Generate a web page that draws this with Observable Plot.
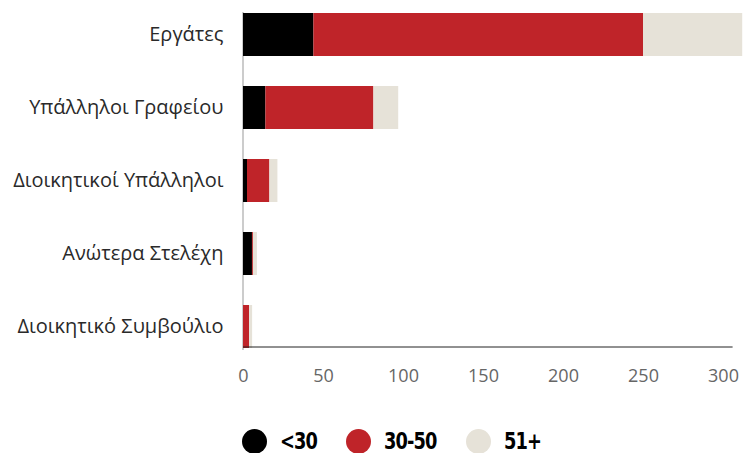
<!DOCTYPE html>
<html>
<head>
<meta charset="utf-8">
<script src="https://cdn.jsdelivr.net/npm/d3@7"></script>
<script src="https://cdn.jsdelivr.net/npm/@observablehq/plot@0.6"></script>
<style>
  html, body { margin: 0; padding: 0; background: #fff; }
  #chart svg { display: block; }
  .legend { display: flex; align-items: center; margin-left: 242px; margin-top: 28px; height: 26px;
            font-family: "DejaVu Sans Condensed", "DejaVu Sans", sans-serif; font-stretch: condensed;
            font-weight: bold; font-size: 23px; line-height: 26px; color: #000; letter-spacing: -1px; }
  .legend .sw { width: 25px; height: 25px; border-radius: 50%; margin-right: 13px; flex: none; }
  .legend .item { display: flex; align-items: center; margin-right: 29px; }
  .legend .lbl { display: inline-block; transform: scaleX(0.86); transform-origin: 0 50%; }
</style>
</head>
<body>
<div id="chart"></div>
<script>
const categories = ["Εργάτες", "Υπάλληλοι Γραφείου", "Διοικητικοί Υπάλληλοι", "Ανώτερα Στελέχη", "Διοικητικό Συμβούλιο"];
const seriesNames = ["<30", "30-50", "51+"];
const seriesColors = ["#000000", "#bf2429", "#e6e2d8"];
const under30 = [44, 14, 2.5, 5.6, 0];
const age30to50 = [206, 67.5, 14, 0.6, 3.8];
const over51 = [62, 15.5, 5, 2.5, 1.9];
const xTicks = [0, 50, 100, 150, 200, 250, 300];

const seriesValues = [under30, age30to50, over51];
const data = [];
seriesNames.forEach((s, si) => {
  categories.forEach((c, ci) => data.push({category: c, group: s, value: seriesValues[si][ci]}));
});

const plot = Plot.plot({
  width: 746,
  height: 400,
  marginLeft: 243,
  marginRight: 3,
  marginTop: 12,
  marginBottom: 50,
  style: {fontFamily: "'Open Sans', sans-serif", background: "#fff"},
  x: {domain: [0, 312.5], ticks: xTicks, label: null},
  y: {domain: categories, paddingInner: 0.405, paddingOuter: 0, label: null},
  color: {domain: seriesNames, range: seriesColors},
  marks: [
    Plot.ruleX([0], {stroke: "#999", dx: -0.5}),
    Plot.barX(data, Plot.stackX({y: "category", x: "value", fill: "group", order: null})),
    Plot.ruleY([categories[categories.length - 1]], {x1: 0, x2: 306, stroke: "#222", dy: 20}),
    Plot.axisX({ticks: xTicks, tickSize: 0, tickPadding: 19, fontSize: 18, fill: "#666", label: null}),
    Plot.axisY({tickSize: 0, tickPadding: 20, fontSize: 20, fill: "#2a2a2a", label: null})
  ]
});
document.getElementById("chart").appendChild(plot);

const legend = document.createElement("div");
legend.className = "legend";
const labels = [];
seriesNames.forEach((s, i) => {
  const item = document.createElement("div");
  item.className = "item";
  const sw = document.createElement("div");
  sw.className = "sw";
  sw.style.background = seriesColors[i];
  const t = document.createElement("span");
  t.className = "lbl";
  t.textContent = s;
  item.appendChild(sw);
  item.appendChild(t);
  legend.appendChild(item);
  labels.push(t);
});
document.getElementById("chart").appendChild(legend);
// compensate layout width for the horizontal squeeze
labels.forEach(t => {
  const w = t.offsetWidth;
  t.style.marginRight = (-w * 0.14) + "px";
});
</script>
</body>
</html>
